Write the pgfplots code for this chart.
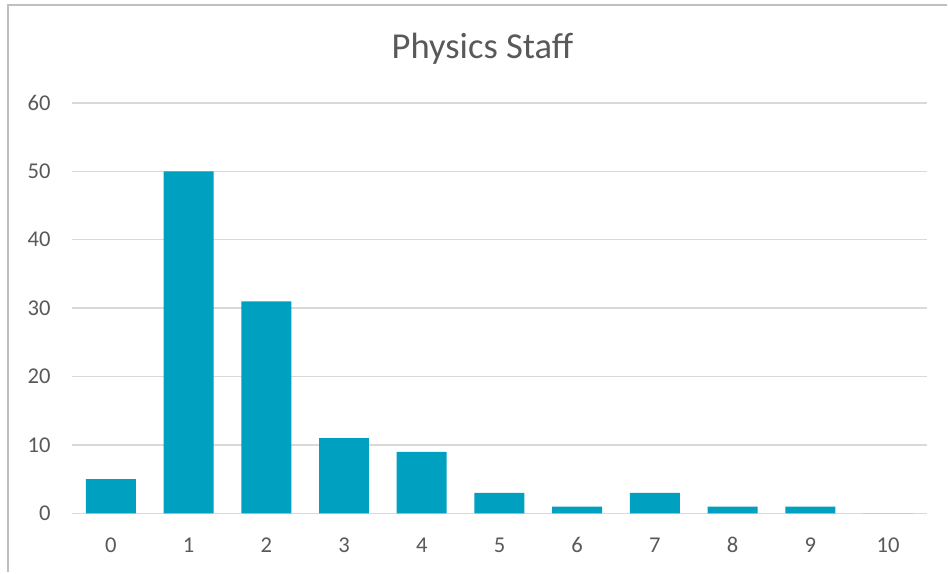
\documentclass[border=0pt]{standalone}
\usepackage{pgfplots}
\pgfplotsset{compat=1.18}
\usepackage{fontspec}
\setmainfont{Carlito}

\definecolor{barteal}{RGB}{0,160,192}
\definecolor{gridgray}{RGB}{217,217,217}
\definecolor{textgray}{RGB}{89,89,89}
\definecolor{framegray}{RGB}{191,191,191}

\begin{document}
\begin{tikzpicture}
  % canvas and chart frame
  \path (0,0) rectangle (474pt,286.5pt);
  \draw[framegray, line width=1pt] (4pt,0) -- (4pt,284pt) -- (474pt,284pt);

  \begin{axis}[
    at={(36pt,29.5pt)}, anchor=south west,
    scale only axis,
    width=428pt, height=205.5pt,
    xmin=-0.5, xmax=10.5,
    ymin=0, ymax=60,
    ytick={0,10,...,60},
    xtick={0,...,10},
    axis line style={draw=none},
    major tick style={draw=none},
    ymajorgrids,
    grid style={gridgray, line width=0.75pt},
    /pgf/number format/assume math mode=true,
    tick label style={font=\fontsize{11.3}{13}\selectfont, text=textgray},
    xticklabel style={anchor=base, yshift=-19.5pt},
    yticklabel style={anchor=east, inner sep=0pt, xshift=-10.5pt},
    clip=false,
  ]
    \addplot[ybar, bar width=0.643, fill=barteal, draw=none]
      coordinates {(0,5) (1,50) (2,31) (3,11) (4,9) (5,3) (6,1) (7,3) (8,1) (9,1) (10,0)};
  \end{axis}

  \node[anchor=base, text=textgray, font=\fontsize{18.3}{22}\selectfont, inner sep=0pt]
    at (241.5pt,257pt) {Physics Staff};
\end{tikzpicture}
\end{document}
